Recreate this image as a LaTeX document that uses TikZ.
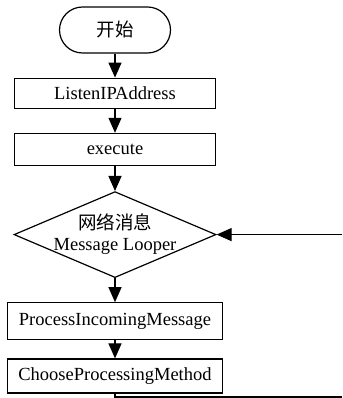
\documentclass[tikz,border=0pt]{standalone}
\usepackage{fontspec}
\setmainfont{Liberation Serif}
\newfontfamily\cjk{Noto Sans CJK SC}
\usetikzlibrary{arrows.meta,shapes.geometric,positioning}

\begin{document}
\begin{tikzpicture}[x=1pt, y=1pt, node distance = 24pt]
	\tikzset{BoxStyle/.style = {
			shape=rectangle,
			draw=black,
			line width=1.2pt,
			inner sep=2pt,
			font=\fontsize{18.5}{21}\selectfont
	}}
	\tikzset{StartStyle/.style = {
			BoxStyle,
			rounded corners=23pt,
			minimum width=111pt,
			minimum height=46pt
	}}
	\tikzset{DecisionStyle/.style = {
			BoxStyle,
			shape=diamond,
			aspect=2.35,
			inner sep=0pt,
			minimum width=202pt,
			minimum height=86pt
	}}
	\tikzset{FlowArrow/.style = {
			line width=1.2pt,
			-{Triangle[length=15pt,width=13pt]}
	}}
	\useasboundingbox (0,0) rectangle (342,398);
	\node[StartStyle] (start) at (115,368) {\cjk 开始};
	\node[BoxStyle, minimum width=201pt, minimum height=30pt, below=of start] (listen) {ListenIPAddress};
	\node[BoxStyle, minimum width=201pt, minimum height=32pt, below=of listen] (execute) {execute};
	\node[DecisionStyle, below=25pt of execute,
		label={[align=center, font=\fontsize{18.5}{21}\selectfont]center:{\cjk 网络消息}\\Message Looper}] (looper) {};
	\node[BoxStyle, minimum width=215pt, minimum height=37pt, below=of looper] (process) {ProcessIncomingMessage};
	\node[BoxStyle, minimum width=215pt, minimum height=34pt, below=18pt of process] (choose) {ChooseProcessingMethod};
	\coordinate (loopout) at (342,1);
	\coordinate (loopin) at (342,0 |- looper.east);
	
	\path [FlowArrow] (start) edge (listen);
	\path [FlowArrow] (listen) edge (execute);
	\path [FlowArrow] (execute) edge (looper);
	\path [FlowArrow] (looper) edge (process);
	\path [FlowArrow] (process) edge (choose);
	\draw [line width=1.2pt] (choose.south) |- (loopout);
	\draw [FlowArrow] (loopin) -- (looper.east);
\end{tikzpicture}
\end{document}
